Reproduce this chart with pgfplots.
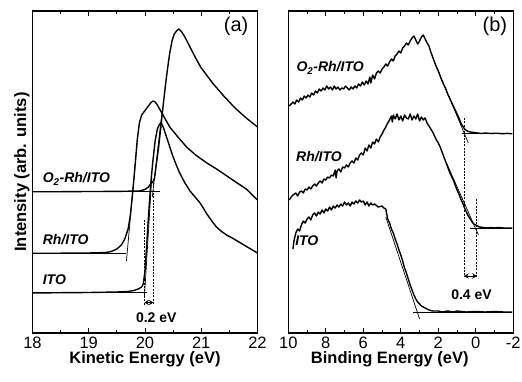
\documentclass[border=0pt]{standalone}
\usepackage{fontspec}
\setmainfont{Liberation Sans}
\usepackage{pgfplots}
\pgfplotsset{compat=1.18}
\usetikzlibrary{arrows.meta}

\pgfplotstableread{
E I
18.0 40
18.5 40.3
19.0 40.5
19.5 41
19.7 41.5
19.8 42.5
19.88 44
19.94 46
19.97 49
20.0 62
20.03 88
20.06 115
20.1 148
20.14 172
20.18 192
20.22 204
20.26 209
20.29 210
20.33 205
20.4 193
20.5 176
20.6 162
20.7 151
20.8 142
20.98 130
21.1 119
21.2 111
21.27 106
21.35 102
21.45 98
21.56 94.7
21.7 90
21.85 85
22.0 80
}\itoA

\pgfplotstableread{
E I
18.0 79.7
18.5 79.8
19.0 80
19.3 80.5
19.4 81.5
19.5 84
19.58 88
19.64 94
19.7 104
19.74 118
19.78 140
19.82 165
19.86 192
19.9 210
19.94 218
19.98 221
20.02 224
20.06 227
20.1 230
20.14 232
20.18 231
20.22 228
20.3 220
20.44 206
20.6 195
20.74 186
20.9 178
21.1 170
21.3 163
21.56 153
21.8 144
22.0 133
}\rhA

\pgfplotstableread{
E I
18.0 141.3
18.5 141.3
19.0 141.5
19.5 141.6
19.9 142
20.0 143.5
20.06 146
20.1 149
20.14 151
20.17 155
20.2 168
20.24 185
20.28 205
20.32 226
20.36 246
20.4 264
20.44 280
20.48 292
20.52 299
20.56 302
20.6 304
20.64 302
20.7 297
20.8 286
20.9 275
21.0 265
21.2 250
21.4 237
21.6 225
21.8 215
22.0 206
}\orhA

\pgfplotstableread{
E I
9.75 84
9.7 92
9.6 100
9.5 104
9.4 102
9.3 108
9.2 112
9.1 110
9.0 114
8.9 116
8.8 113
8.7 118
8.6 120
8.5 117
8.4 121
8.3 119
8.2 123
8.1 120
8.0 124
7.9 122
7.8 126
7.7 123
7.6 127
7.5 125
7.4 128
7.3 126
7.2 129
7.1 127
7.0 131
6.9 128
6.8 130
6.7 127
6.6 131
6.5 129
6.4 132
6.3 130
6.2 133
6.1 131
6.0 132
5.9 128
5.8 131
5.7 127
5.6 130
5.5 128
5.4 129
5.2 126
5.0 127
4.9 125
4.8 124
4.7 114
4.6 110
4.5 104
4.4 100
4.3 94
4.2 89
4.1 83
4.0 78
3.9 72
3.8 65
3.7 60
3.6 54
3.5 48
3.4 43
3.3 38
3.2 34
3.1 31
3.0 29
2.9 27
2.7 25
2.5 23
2.3 22
2.0 22
1.8 21
1.5 22
1.2 21
1.0 22
0.5 21
0 21.5
-0.5 21
-1.0 21.5
-1.5 21
-1.95 21
}\itoB

\pgfplotstableread{
E I
9.95 133
9.85 136
9.75 138
9.6 140
9.5 137
9.4 141
9.3 142
9.2 140
9.1 144
9.0 143
8.9 146
8.8 144
8.7 147
8.6 149
8.5 147
8.4 150
8.3 152
8.2 150
8.1 154
8.0 153
7.9 156
7.8 155
7.7 158
7.6 157
7.5 163
7.45 155
7.4 162
7.3 164
7.2 161
7.1 166
7.0 165
6.9 168
6.8 166
6.7 170
6.6 172
6.5 170
6.4 175
6.3 173
6.2 178
6.1 180
6.0 178
5.9 185
5.8 182
5.7 188
5.6 185
5.5 191
5.4 189
5.3 194
5.2 191
5.1 196
5.0 199
4.9 203
4.8 206
4.7 210
4.6 213
4.5 217
4.45 211
4.4 218
4.3 214
4.2 219
4.1 213
4.0 217
3.9 212
3.8 218
3.7 215
3.6 214
3.5 219
3.4 213
3.3 217
3.2 214
3.1 219
3.0 212
2.9 216
2.8 213
2.7 215
2.6 210
2.5 207
2.4 204
2.3 201
2.2 197
2.1 193
2.0 190
1.9 186
1.8 181
1.7 176
1.6 171
1.5 166
1.4 161
1.3 157
1.2 153
1.1 148
1.0 143
0.9 139
0.8 134
0.7 130
0.6 125
0.5 121
0.4 117
0.3 114
0.2 111
0.1 109
0.0 108
-0.2 106
-0.4 105.5
-0.6 105
-0.8 105.5
-1.0 105
-1.2 105.5
-1.5 105
-1.95 105
}\rhB

\pgfplotstableread{
E I
9.95 227
9.85 229
9.75 231
9.65 229
9.55 233
9.45 231
9.35 235
9.25 233
9.15 237
9.05 235
8.95 238
8.85 236
8.75 240
8.65 238
8.55 242
8.45 240
8.35 244
8.25 242
8.15 245
8.05 243
7.95 247
7.85 244
7.75 246
7.65 243
7.55 247
7.45 244
7.35 246
7.25 243
7.15 245
7.05 244
6.95 247
6.85 245
6.75 243
6.65 246
6.55 244
6.45 247
6.35 245
6.25 249
6.15 247
6.05 251
5.95 248
5.85 252
5.75 249
5.65 256
5.6 250
5.5 258
5.4 254
5.3 260
5.2 262
5.1 260
5.0 264
4.9 266
4.8 269
4.7 267
4.6 271
4.5 274
4.4 272
4.3 277
4.2 279
4.1 282
4.0 280
3.9 285
3.8 287
3.7 290
3.6 288
3.5 292
3.4 295
3.3 297
3.2 293
3.1 289
3.0 292
2.9 296
2.8 298
2.7 294
2.6 290
2.5 287
2.4 281
2.3 276
2.2 271
2.1 266
2.0 262
1.9 257
1.8 252
1.7 248
1.6 244
1.5 239
1.4 235
1.3 231
1.2 227
1.1 223
1.0 219
0.9 215
0.8 210
0.7 207
0.6 204
0.5 202.5
0.4 201.5
0.3 201
0.1 200.5
-0.1 200
-0.3 199.5
-0.5 200
-0.8 199.5
-1.1 199.8
-1.4 199.3
-1.7 199.6
-1.95 199.2
}\orhB

\pgfplotsset{
  panel/.style={
    scale only axis, width=225pt, height=322pt,
    anchor=south west, clip=false,
    ymin=0, ymax=322, ytick=\empty,
    minor x tick num=1,
    axis line style={line width=1.6pt},
    tick style={black, line width=0.9pt},
    major tick length=5pt, minor tick length=3pt,
    tick align=inside, xtick pos=both,
    /pgf/number format/assume math mode=true,
    xticklabel style={font=\fontsize{16.5}{19}\selectfont, inner sep=1pt, yshift=-2.5pt},
    xlabel style={font=\fontsize{16.5}{19}\selectfont\bfseries, inner sep=0pt, anchor=north, at={(axis description cs:0.5,0)}, yshift=-18pt},
    ylabel style={font=\fontsize{16.5}{19}\selectfont\bfseries, inner sep=0pt},
  },
}
\tikzset{
  curve/.style={black, line width=1.4pt, line join=round},
  thin/.style={black, line width=0.7pt},
  dsh/.style={black, line width=1pt, dash pattern=on 2pt off 1.3pt},
  dblarrow/.style={line width=1pt, {Stealth[length=4.5pt,width=5.5pt]}-{Stealth[length=4.5pt,width=5.5pt]}},
}
\newcommand{\lab}{\fontsize{14}{16}\selectfont\bfseries\itshape}

\begin{document}
\begin{tikzpicture}
\path[use as bounding box] (0,0) rectangle (522pt,381pt);

\begin{axis}[panel, at={(32.5pt,48pt)},
  xmin=18, xmax=22, xtick={18,19,20,21,22},
  xlabel={Kinetic Energy (eV)},
  ylabel={Intensity (arb. units)},
  ylabel style={at={(axis description cs:-0.012,0.5)}, anchor=south},
]
\addplot[curve] table[x=E,y=I] {\itoA};
\addplot[curve] table[x=E,y=I] {\rhA};
\addplot[curve] table[x=E,y=I] {\orhA};
% fitted lines
\addplot[thin] coordinates {(18,141.3) (20.27,141.3)};
\addplot[thin] coordinates {(18,79.7) (19.67,79.7)};
\addplot[thin] coordinates {(19.67,72) (19.86,190)};
\addplot[thin] coordinates {(18,40.3) (20.03,40.3)};
\addplot[thin] coordinates {(19.99,36) (20.12,155)};
\addplot[thin] coordinates {(20.13,136) (20.3,220)};
% dashed guides
\addplot[dsh] coordinates {(19.99,113) (19.99,28)};
\addplot[dsh] coordinates {(20.15,150) (20.15,28)};
\draw[dblarrow] (axis cs:19.99,30.5) -- (axis cs:20.15,30.5);
\node[font=\fontsize{14}{16}\selectfont\bfseries] at (axis cs:20.2,15) {0.2 eV};
\node[font=\lab, anchor=west, inner sep=0pt] at (axis cs:18.18,154) {O\textsubscript{2}-Rh/ITO};
\node[font=\lab, anchor=west, inner sep=0pt] at (axis cs:18.18,93) {Rh/ITO};
\node[font=\lab, anchor=west, inner sep=0pt] at (axis cs:18.18,53) {ITO};
\node[font=\fontsize{20}{22}\selectfont] at (axis cs:21.62,307) {(a)};
\end{axis}

\begin{axis}[panel, at={(288.3pt,48pt)},
  xmin=-2, xmax=10, x dir=reverse,
  xtick={-2,0,2,4,6,8,10}, xticklabels={-2,0,2,4,6,8,10},
  xlabel={Binding Energy (eV)},
  xlabel style={xshift=-11pt},
]
\addplot[curve] table[x=E,y=I] {\itoB};
\addplot[curve] table[x=E,y=I] {\rhB};
\addplot[curve] table[x=E,y=I] {\orhB};
% fitted lines
\addplot[thin] coordinates {(3.33,21) (-1.95,21)};
\addplot[thin] coordinates {(4.8,116) (3.0,14)};
\addplot[thin] coordinates {(0.31,105) (-1.95,105)};
\addplot[thin] coordinates {(1.56,170) (-0.14,98)};
\addplot[thin] coordinates {(0.76,199.5) (-1.95,199.5)};
\addplot[thin] coordinates {(2.09,266) (0.4,190)};
% dashed guides
\addplot[dsh] coordinates {(0.62,215) (0.62,56)};
\addplot[dsh] coordinates {(-0.05,134) (-0.05,56)};
\draw[dblarrow] (axis cs:0.62,57) -- (axis cs:-0.05,57);
\node[font=\fontsize{14}{16}\selectfont\bfseries] at (axis cs:0.23,38) {0.4 eV};
\node[font=\lab, anchor=west, inner sep=0pt] at (axis cs:9.57,265) {O\textsubscript{2}-Rh/ITO};
\node[font=\lab, anchor=west, inner sep=0pt] at (axis cs:9.59,176) {Rh/ITO};
\node[font=\lab, anchor=west, inner sep=0pt] at (axis cs:9.64,92) {ITO};
\node[font=\fontsize{20}{22}\selectfont] at (axis cs:-1.02,307) {(b)};
\end{axis}
\end{tikzpicture}
\end{document}
